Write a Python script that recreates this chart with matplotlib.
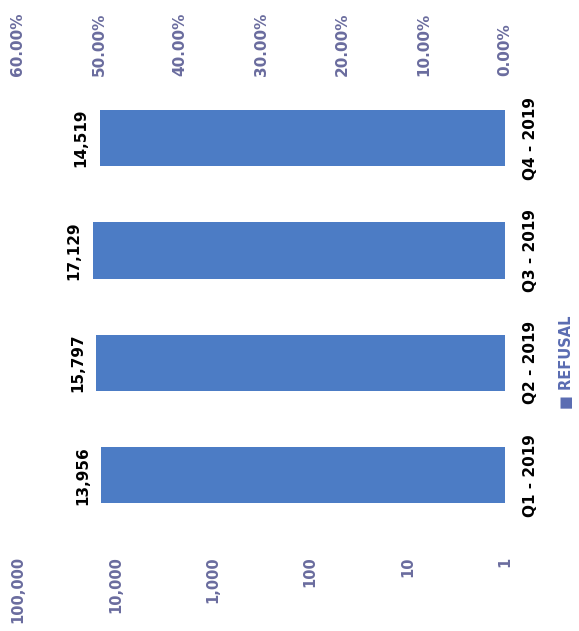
import numpy as np
import matplotlib
matplotlib.use("Agg")
import matplotlib.pyplot as plt

# data
quarters = ["Q1 - 2019", "Q2 - 2019", "Q3 - 2019", "Q4 - 2019"]
refusal = [13956, 15797, 17129, 14519]
log_ticks = [1, 10, 100, 1000, 10000, 100000]
pct_ticks = [0.0, 0.1, 0.2, 0.3, 0.4, 0.5, 0.6]

bar_color = "#4c7cc5"
tick_color = "#6a6c9e"

plt.rcParams["font.family"] = ["DejaVu Sans"]

fig = plt.figure(figsize=(5.79, 6.31), dpi=100)
# chart is scanned rotated 90 deg, so draw it sideways
ax = fig.add_axes([0.031, 0.158, 0.841, 0.712])

pos = np.arange(len(quarters))
ax.barh(pos, refusal, height=0.5, color=bar_color, log=True)
ax.set_xscale("log")
ax.set_xlim(100000, 1)
ax.set_ylim(-0.5, len(quarters) - 0.5)

ax.set_xticks(log_ticks)
ax.set_xticklabels([f"{t:,}" for t in log_ticks], rotation=90)
ax.xaxis.set_minor_locator(matplotlib.ticker.NullLocator())
ax.tick_params(axis="x", length=0, pad=18, colors=tick_color, labelsize=10.5)
for lab in ax.get_xticklabels():
    lab.set_fontweight("bold")

ax.yaxis.tick_right()
ax.set_yticks(pos)
ax.set_yticklabels(quarters, rotation=90, va="center", fontweight="bold")
ax.tick_params(axis="y", length=0, pad=13, labelsize=11, colors="black")

for i, v in enumerate(refusal):
    ax.annotate(f"{v:,}", xy=(v, i), xytext=(-8, 0), textcoords="offset points",
                ha="right", va="center", rotation=90, fontsize=11,
                fontweight="bold", color="black")

ax2 = ax.twiny()
ax2.set_xlim(0.6, 0)
ax2.set_xticks(pct_ticks)
ax2.set_xticklabels([f"{t*100:.2f}%" for t in pct_ticks], rotation=90)
ax2.tick_params(axis="x", length=0, pad=4, colors=tick_color, labelsize=11)
for lab in ax2.get_xticklabels():
    lab.set_fontweight("bold")

for a in (ax, ax2):
    for s in a.spines.values():
        s.set_visible(False)

# legend, sideways too
fig.text(0.978, 1 - 362 / 631, "\u25a0 REFUSAL", rotation=90, ha="center", va="center",
         fontsize=10.5, fontweight="bold", color="#5a6cb2")

fig.savefig("out.png", dpi=100)
